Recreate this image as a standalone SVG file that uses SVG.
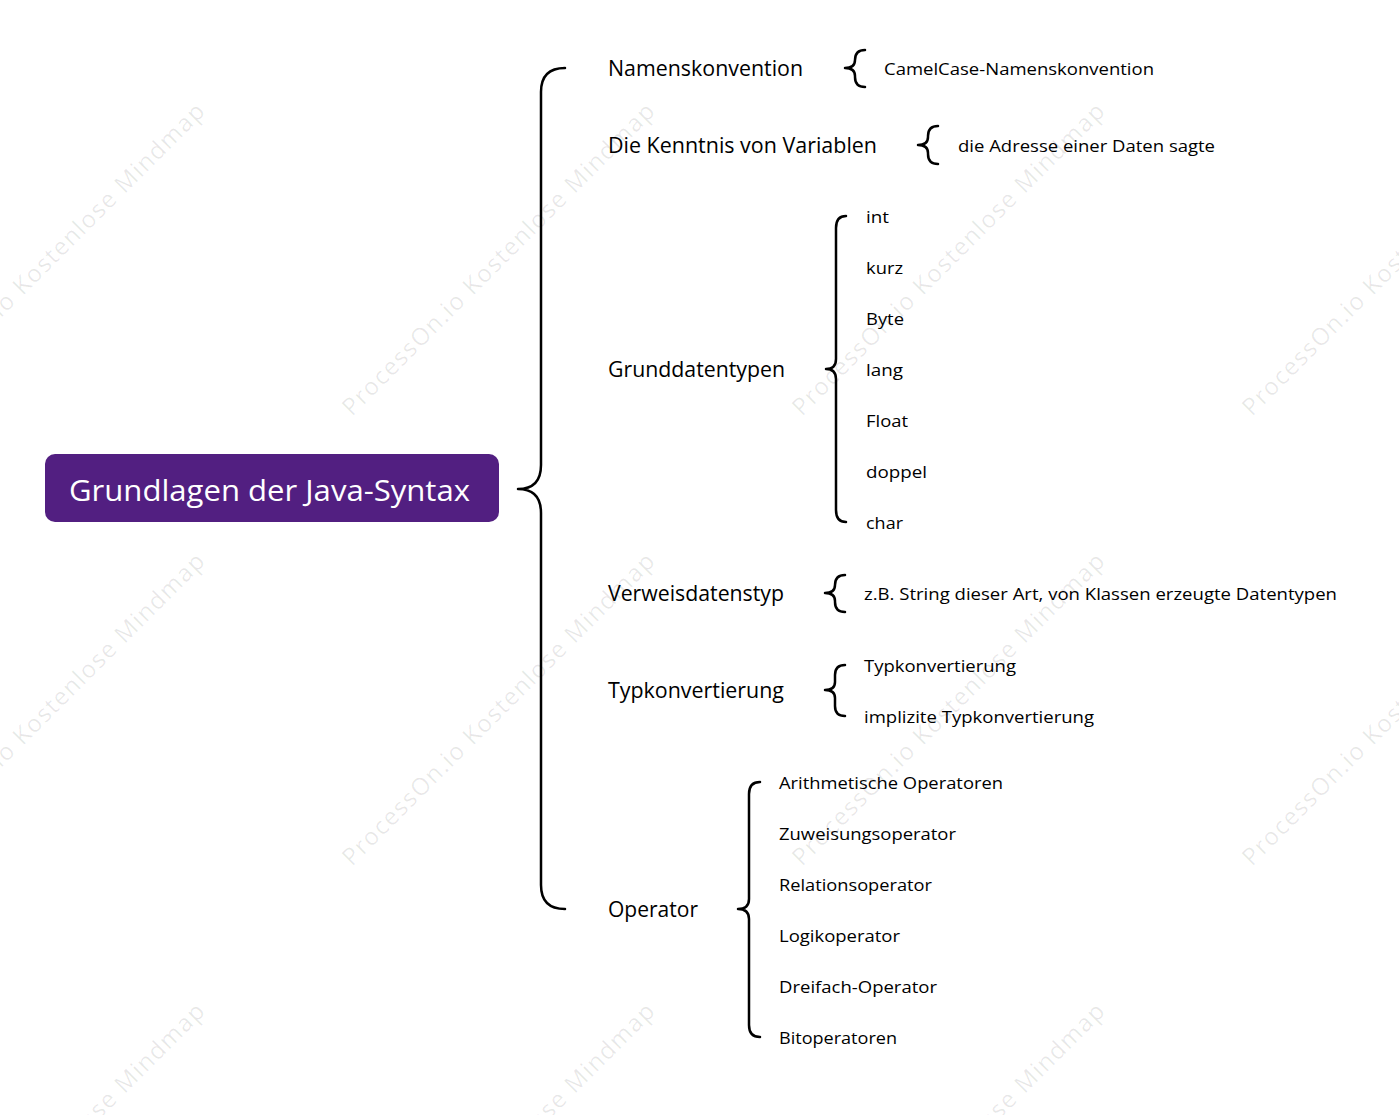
<svg xmlns="http://www.w3.org/2000/svg" width="1399" height="1115" viewBox="0 0 1399 1115">
<style>
.wm{font-family:"Open Sans","Noto Sans",sans-serif;font-size:24px;fill:#000;fill-opacity:0.09}
.t{font-family:"Open Sans","Noto Sans",sans-serif;fill:#000;dominant-baseline:central}
.l1{font-size:21px}
.l2{font-size:17px}
.root{font-family:"Open Sans","Noto Sans",sans-serif;font-size:29px;fill:#fff;dominant-baseline:central}
.br{fill:none;stroke:#000;stroke-width:2.5;stroke-linecap:round;stroke-linejoin:round}
</style>
<rect width="1399" height="1115" fill="#fff"/>
<g id="watermarks">
<text class="wm" transform="translate(-98,417) rotate(-45)" textLength="430">ProcessOn.io Kostenlose Mindmap</text>
<text class="wm" transform="translate(352,417) rotate(-45)" textLength="430">ProcessOn.io Kostenlose Mindmap</text>
<text class="wm" transform="translate(802,417) rotate(-45)" textLength="430">ProcessOn.io Kostenlose Mindmap</text>
<text class="wm" transform="translate(1252,417) rotate(-45)" textLength="430">ProcessOn.io Kostenlose Mindmap</text>
<text class="wm" transform="translate(-98,867) rotate(-45)" textLength="430">ProcessOn.io Kostenlose Mindmap</text>
<text class="wm" transform="translate(352,867) rotate(-45)" textLength="430">ProcessOn.io Kostenlose Mindmap</text>
<text class="wm" transform="translate(802,867) rotate(-45)" textLength="430">ProcessOn.io Kostenlose Mindmap</text>
<text class="wm" transform="translate(1252,867) rotate(-45)" textLength="430">ProcessOn.io Kostenlose Mindmap</text>
<text class="wm" transform="translate(-98,1317) rotate(-45)" textLength="430">ProcessOn.io Kostenlose Mindmap</text>
<text class="wm" transform="translate(352,1317) rotate(-45)" textLength="430">ProcessOn.io Kostenlose Mindmap</text>
<text class="wm" transform="translate(802,1317) rotate(-45)" textLength="430">ProcessOn.io Kostenlose Mindmap</text>
</g>
<g id="connectors">
<path class="br" d="M565,68 Q541,68 541,92 L541,465 Q541,489 518,489 Q541,489 541,513 L541,885 Q541,909 565,909"/>
<path class="br" d="M865,50 Q855,50 855,60 L855,60 Q855,68 845,68 Q855,68 855,76 L855,77 Q855,87 865,87"/>
<path class="br" d="M938,126 Q928,126 928,136 L928,137 Q928,145 918,145 Q928,145 928,153 L928,154 Q928,164 938,164"/>
<path class="br" d="M846,216 Q836,216 836,228 L836,359 Q836,369 826,369 Q836,369 836,379 L836,510 Q836,522 846,522"/>
<path class="br" d="M845,575 Q835,575 835,585 L835,585 Q835,593 825,593 Q835,593 835,601 L835,602 Q835,612 845,612"/>
<path class="br" d="M845,665 Q835,665 835,675 L835,682 Q835,690 825,690 Q835,690 835,698 L835,706 Q835,716 845,716"/>
<path class="br" d="M760,782 Q749,782 749,794 L749,899 Q749,909 738,909 Q749,909 749,919 L749,1025 Q749,1037 760,1037"/>
</g>
<g id="root">
<rect x="45" y="454" width="454" height="68" rx="10" fill="#521f81"/>
<text class="root" x="69" y="489" textLength="401" lengthAdjust="spacingAndGlyphs">Grundlagen der Java-Syntax</text>
</g>
<g id="n-namenskonvention"><text class="t l1" x="608" y="68" textLength="195" lengthAdjust="spacingAndGlyphs">Namenskonvention</text></g>
<g id="n-camelcase"><text class="t l2" x="884" y="68" textLength="270" lengthAdjust="spacingAndGlyphs">CamelCase-Namenskonvention</text></g>
<g id="n-kenntnis"><text class="t l1" x="608" y="145" textLength="269" lengthAdjust="spacingAndGlyphs">Die Kenntnis von Variablen</text></g>
<g id="n-adresse"><text class="t l2" x="958" y="145" textLength="257" lengthAdjust="spacingAndGlyphs">die Adresse einer Daten sagte</text></g>
<g id="n-grunddatentypen"><text class="t l1" x="608" y="369" textLength="177" lengthAdjust="spacingAndGlyphs">Grunddatentypen</text></g>
<g id="n-int"><text class="t l2" x="866" y="216" textLength="23" lengthAdjust="spacingAndGlyphs">int</text></g>
<g id="n-kurz"><text class="t l2" x="866" y="267" textLength="37" lengthAdjust="spacingAndGlyphs">kurz</text></g>
<g id="n-byte"><text class="t l2" x="866" y="318" textLength="38" lengthAdjust="spacingAndGlyphs">Byte</text></g>
<g id="n-lang"><text class="t l2" x="866" y="369" textLength="37" lengthAdjust="spacingAndGlyphs">lang</text></g>
<g id="n-float"><text class="t l2" x="866" y="420" textLength="42" lengthAdjust="spacingAndGlyphs">Float</text></g>
<g id="n-doppel"><text class="t l2" x="866" y="471" textLength="61" lengthAdjust="spacingAndGlyphs">doppel</text></g>
<g id="n-char"><text class="t l2" x="866" y="522" textLength="37" lengthAdjust="spacingAndGlyphs">char</text></g>
<g id="n-verweis"><text class="t l1" x="608" y="593" textLength="176" lengthAdjust="spacingAndGlyphs">Verweisdatenstyp</text></g>
<g id="n-string"><text class="t l2" x="864" y="593" textLength="473" lengthAdjust="spacingAndGlyphs">z.B. String dieser Art, von Klassen erzeugte Datentypen</text></g>
<g id="n-typkonv"><text class="t l1" x="608" y="690" textLength="176" lengthAdjust="spacingAndGlyphs">Typkonvertierung</text></g>
<g id="n-typkonv2"><text class="t l2" x="864" y="665" textLength="152" lengthAdjust="spacingAndGlyphs">Typkonvertierung</text></g>
<g id="n-implizit"><text class="t l2" x="864" y="716" textLength="230" lengthAdjust="spacingAndGlyphs">implizite Typkonvertierung</text></g>
<g id="n-operator"><text class="t l1" x="608" y="909" textLength="90" lengthAdjust="spacingAndGlyphs">Operator</text></g>
<g id="n-arith"><text class="t l2" x="779" y="782" textLength="224" lengthAdjust="spacingAndGlyphs">Arithmetische Operatoren</text></g>
<g id="n-zuweis"><text class="t l2" x="779" y="833" textLength="177" lengthAdjust="spacingAndGlyphs">Zuweisungsoperator</text></g>
<g id="n-relation"><text class="t l2" x="779" y="884" textLength="153" lengthAdjust="spacingAndGlyphs">Relationsoperator</text></g>
<g id="n-logik"><text class="t l2" x="779" y="935" textLength="121" lengthAdjust="spacingAndGlyphs">Logikoperator</text></g>
<g id="n-dreifach"><text class="t l2" x="779" y="986" textLength="158" lengthAdjust="spacingAndGlyphs">Dreifach-Operator</text></g>
<g id="n-bit"><text class="t l2" x="779" y="1037" textLength="118" lengthAdjust="spacingAndGlyphs">Bitoperatoren</text></g>
</svg>
